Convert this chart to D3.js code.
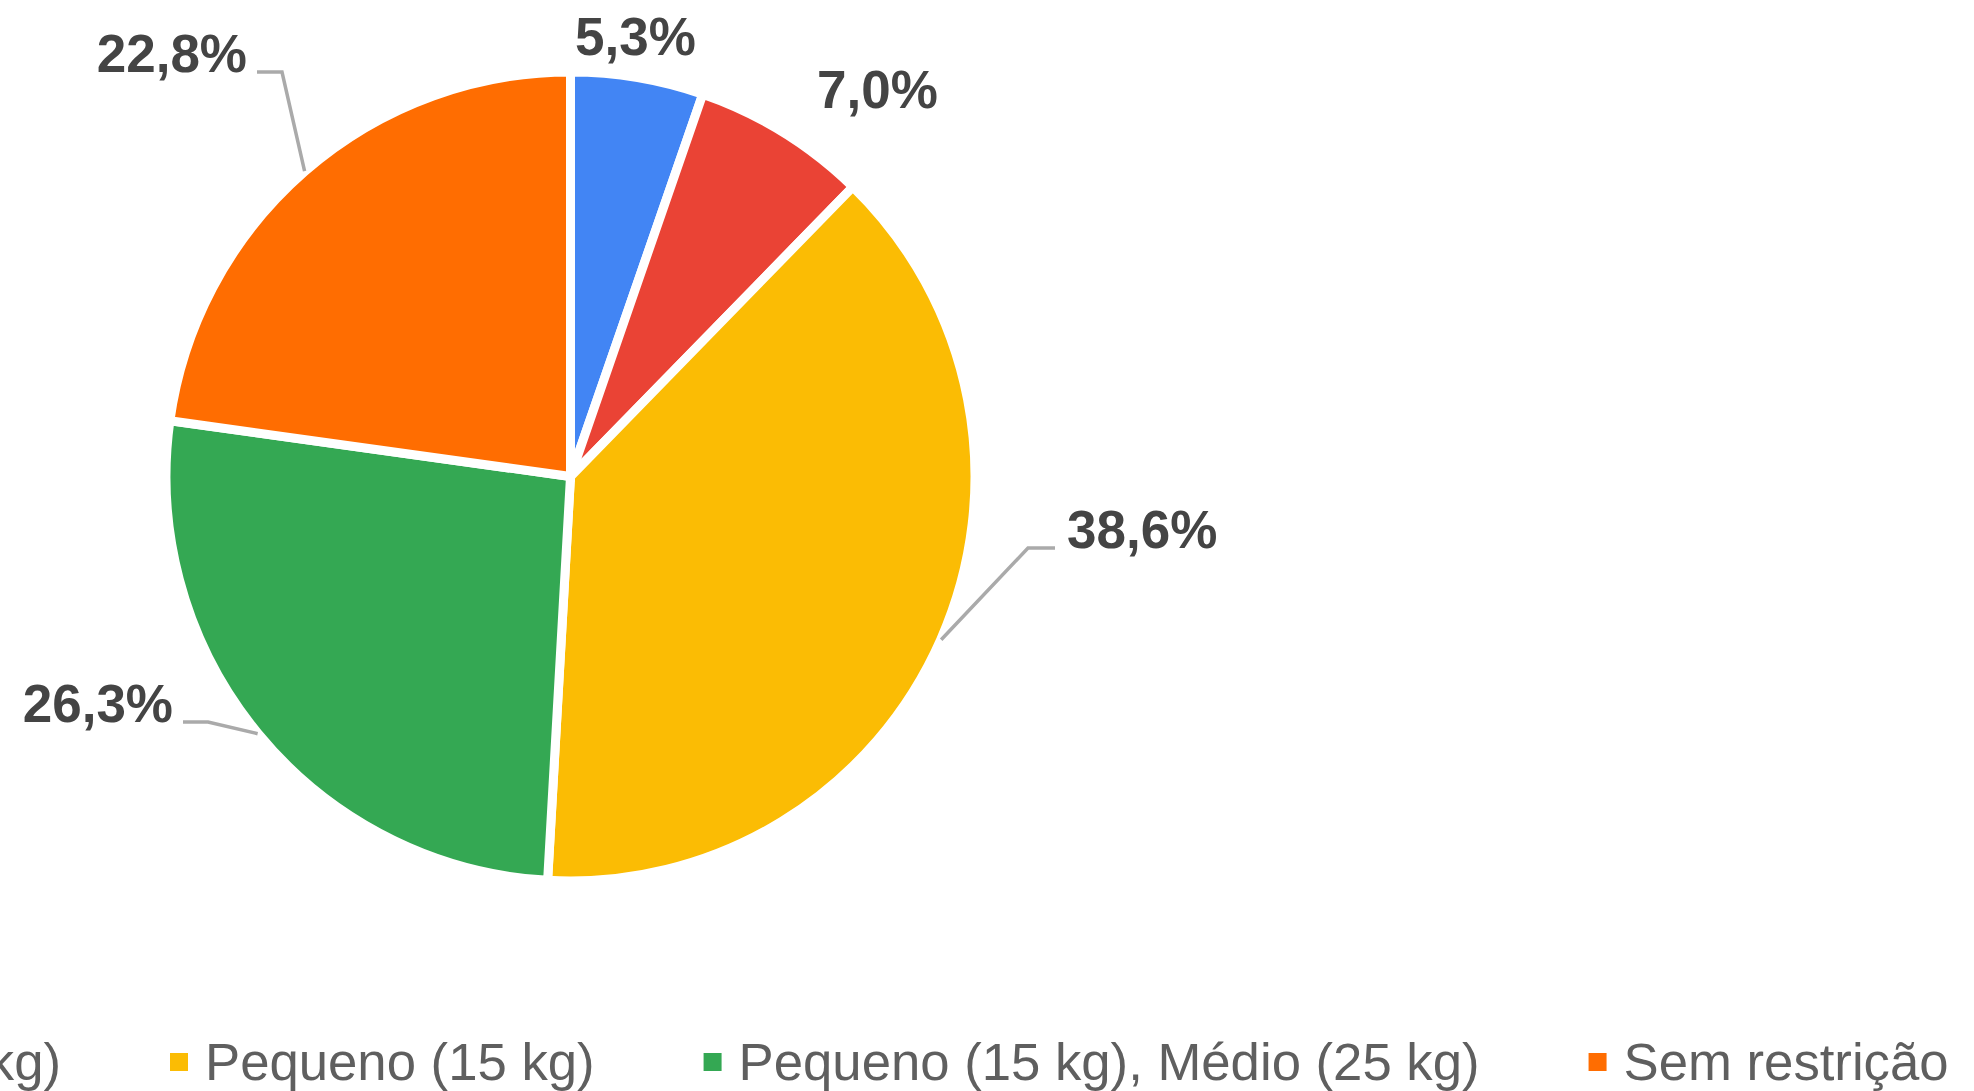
<!DOCTYPE html>
<html>
<head>
<meta charset="utf-8">
<script src="https://cdn.jsdelivr.net/npm/d3@7"></script>
<style>
  html, body { margin: 0; padding: 0; background: #ffffff; overflow: hidden; }
  svg { display: block; }
</style>
</head>
<body>
<script>
// ---- Data ----
const categories = ["Nenhum", "Mini (10 kg)", "Pequeno (15 kg)", "Pequeno (15 kg), Médio (25 kg)", "Sem restrição"];
const values = [5.3, 7.0, 38.6, 26.3, 22.8];
const valueLabels = ["5,3%", "7,0%", "38,6%", "26,3%", "22,8%"];
const colors = ["#4285F4", "#EA4335", "#FBBC04", "#34A853", "#FF6D01"];

// ---- Layout (label placement relative to pie centre) ----
const labelDX = [4.5, 246.5, 496.5, -397.5, -323.5];
const labelDY = [-421.5, -368.5, 71.5, 245.5, -404.5];
const labelAnchor = ["start", "start", "start", "end", "end"];
const hasLeader = [false, false, true, true, true];

const W = 1974, H = 1091;
const cx = 570.5, cy = 476.5, R = 404.5;

const svg = d3.select("body").append("svg").attr("width", W).attr("height", H);

const pie = d3.pie().sort(null).value(d => d)(values);
const arc = d3.arc().innerRadius(0).outerRadius(R);

const g = svg.append("g").attr("transform", `translate(${cx},${cy})`);

g.selectAll("path.slice")
  .data(pie)
  .join("path")
  .attr("class", "slice")
  .attr("d", arc)
  .attr("fill", (d, i) => colors[i])
  .attr("stroke", "#ffffff")
  .attr("stroke-width", 9)
  .attr("stroke-linejoin", "miter");

// leader lines
pie.forEach((d, i) => {
  if (!hasLeader[i]) return;
  const mid = (d.startAngle + d.endAngle) / 2;
  const px = 405 * Math.sin(mid), py = -405 * Math.cos(mid);
  const ly = labelDY[i];
  let x0, x1;
  if (labelAnchor[i] === "end") { x0 = labelDX[i] + 10; x1 = labelDX[i] + 35; }
  else { x0 = labelDX[i] - 12; x1 = labelDX[i] - 39; }
  g.append("path")
    .attr("d", d3.line()([[x0, ly], [x1, ly], [px, py]]))
    .attr("fill", "none")
    .attr("stroke", "#aaaaaa")
    .attr("stroke-width", 3.5);
});

// value labels
g.selectAll("text.vl")
  .data(pie)
  .join("text")
  .attr("class", "vl")
  .attr("x", (d, i) => labelDX[i])
  .attr("y", (d, i) => labelDY[i])
  .attr("text-anchor", (d, i) => labelAnchor[i])
  .attr("font-family", "'Liberation Sans', Arial, sans-serif")
  .attr("font-weight", "bold")
  .attr("font-size", 53)
  .attr("fill", "#444444")
  .text((d, i) => valueLabels[i]);

// legend
const legend = svg.append("g");
const fontSize = 52.7;
const items = legend.selectAll("g.item")
  .data(categories)
  .join("g")
  .attr("class", "item");
items.append("rect")
  .attr("width", 18).attr("height", 18)
  .attr("y", 1053)
  .attr("fill", (d, i) => colors[i]);
items.append("text")
  .attr("x", 35)
  .attr("y", 1080)
  .attr("font-family", "'Liberation Sans', Arial, sans-serif")
  .attr("font-size", fontSize)
  .attr("fill", "#5f5f5f")
  .text(d => d);
let xs = [];
let cur = 0;
items.each(function(d, i) {
  xs.push(cur);
  const tw = d3.select(this).select("text").node().getComputedTextLength();
  cur += 35 + tw + 109;
});
const shift = 170 - xs[2];
items.attr("transform", (d, i) => `translate(${xs[i] + shift},0)`);
</script>
</body>
</html>
